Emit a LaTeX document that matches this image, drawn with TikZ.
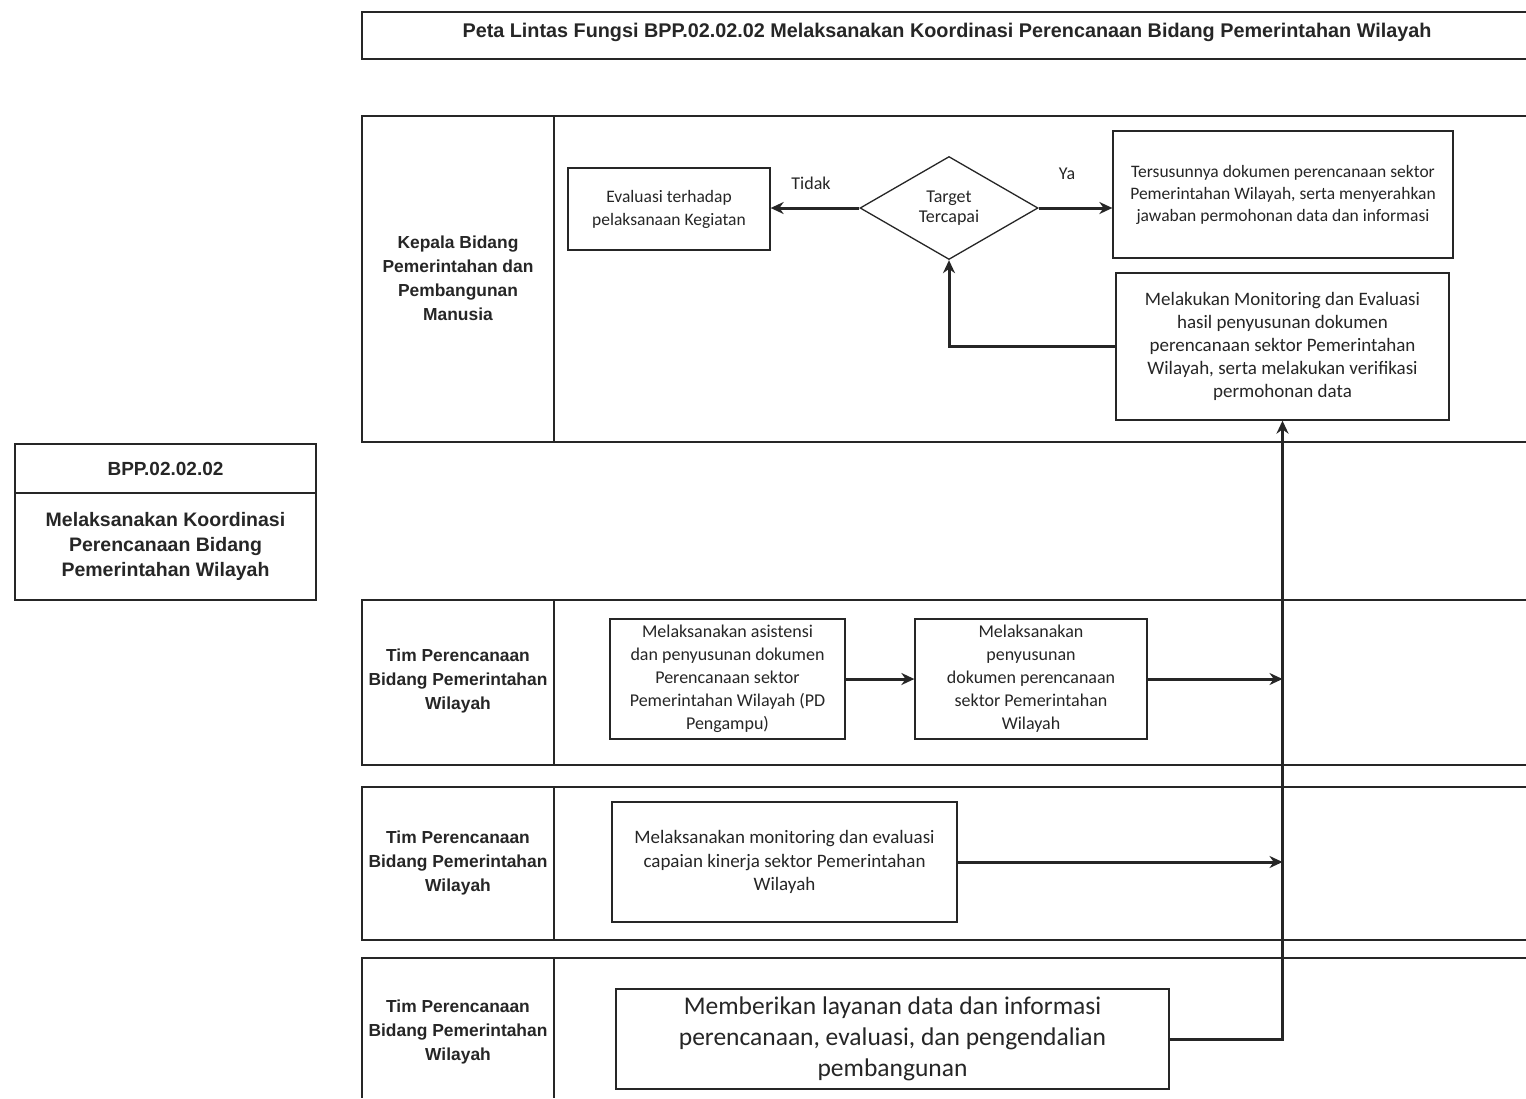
\documentclass[tikz,border=0pt]{standalone}
\usepackage{fontspec}
\setmainfont{Carlito}
\newfontfamily\labelfont{Liberation Sans}
\usetikzlibrary{arrows.meta,shapes.geometric}

\begin{document}
\begin{tikzpicture}[x=1pt,y=-1pt,line width=1.3pt,color=black!85,
  box/.style={draw,align=center,inner sep=2pt,font=\fontsize{18}{23}\selectfont},
  lanelabel/.style={align=center,inner sep=0pt,font=\labelfont\bfseries\fontsize{17.4}{24}\selectfont},
  flow/.style={line width=3pt,-{Stealth[length=13pt,width=12pt]}}]
\path[use as bounding box,fill=white] (0,0) rectangle (1526,1098);
% title and frames
\draw (1526,12) -- (362,12) -- (362,59) -- (1526,59);
\node[inner sep=0pt,font=\labelfont\bfseries\fontsize{19.8}{22}\selectfont] (title) at (947,32) {Peta Lintas Fungsi BPP.02.02.02 Melaksanakan Koordinasi Perencanaan Bidang Pemerintahan Wilayah};
\draw (1526,116) -- (362,116) -- (362,442) -- (1526,442);
\draw (554,116) -- (554,442);
\draw (1526,600) -- (362,600) -- (362,765) -- (1526,765);
\draw (554,600) -- (554,765);
\draw (1526,787) -- (362,787) -- (362,940) -- (1526,940);
\draw (554,787) -- (554,940);
\draw (1526,958) -- (362,958) -- (362,1098);
\draw (554,958) -- (554,1098);
% left code box
\node[draw,minimum width=301pt,minimum height=49pt,inner sep=0pt,font=\labelfont\bfseries\fontsize{19}{22}\selectfont] (code) at (165.5,468.5) {BPP.02.02.02};
\node[draw,minimum width=301pt,minimum height=107pt,inner sep=0pt,align=center,font=\labelfont\bfseries\fontsize{19.5}{25}\selectfont] (codename) at (165.5,546.5) {Melaksanakan Koordinasi\\Perencanaan Bidang\\Pemerintahan Wilayah};
% lane labels
\node[lanelabel] (kabid) at (458,278.5) {Kepala Bidang\\Pemerintahan dan\\Pembangunan\\Manusia};
\node[lanelabel] (timA) at (458,681) {Tim Perencanaan\\Bidang Pemerintahan\\Wilayah};
\node[lanelabel] (timB) at (458,863) {Tim Perencanaan\\Bidang Pemerintahan\\Wilayah};
\node[lanelabel] (timC) at (458,1032) {Tim Perencanaan\\Bidang Pemerintahan\\Wilayah};
% lane 1
\node[box,minimum width=202pt,minimum height=82pt,font=\fontsize{17.5}{23}\selectfont] (eval) at (669,209) {Evaluasi terhadap\\pelaksanaan Kegiatan};
\node[draw,shape=diamond,aspect=1.8,inner sep=0pt,minimum width=178pt,minimum height=103pt,align=center,font=\fontsize{18}{20}\selectfont] (target) at (949,208) {Target\\Tercapai};
\node[box,minimum width=340pt,minimum height=127pt,font=\fontsize{17.5}{22}\selectfont] (result) at (1283,194.5) {Tersusunnya dokumen perencanaan sektor\\Pemerintahan Wilayah, serta menyerahkan\\jawaban permohonan data dan informasi};
\node[box,minimum width=333pt,minimum height=147pt,font=\fontsize{19}{23}\selectfont] (mon) at (1282.5,346.5) {Melakukan Monitoring dan Evaluasi\\hasil penyusunan dokumen\\perencanaan sektor Pemerintahan\\Wilayah, serta melakukan verifikasi\\permohonan data};
\node[inner sep=0pt,font=\fontsize{18}{20}\selectfont] (tidak) at (811,183) {Tidak};
\node[inner sep=0pt,font=\fontsize{18}{20}\selectfont] (ya) at (1067,174) {Ya};
% lane 2
\node[box,minimum width=235pt,minimum height=120pt] (asis) at (727.5,679) {Melaksanakan asistensi\\dan penyusunan dokumen\\Perencanaan sektor\\Pemerintahan Wilayah (PD\\Pengampu)};
\node[box,minimum width=232pt,minimum height=120pt] (susun) at (1031,679) {Melaksanakan\\penyusunan\\dokumen perencanaan\\sektor Pemerintahan\\Wilayah};
% lane 3
\node[box,minimum width=345pt,minimum height=120pt,font=\fontsize{19}{23.5}\selectfont] (monev) at (784.5,862) {Melaksanakan monitoring dan evaluasi\\capaian kinerja sektor Pemerintahan\\Wilayah};
% lane 4
\node[box,minimum width=553pt,minimum height=100pt,font=\fontsize{25.5}{31}\selectfont] (layan) at (892.5,1039) {Memberikan layanan data dan informasi\\perencanaan, evaluasi, dan pengendalian\\pembangunan};
% connectors
\draw[flow] (target.west) -- (target.west -| eval.east);
\draw[flow] (target.east) -- (target.east -| result.west);
\draw[flow] (mon.west) -| (target.south);
\draw[flow] (asis.east) -- (susun.west);
\draw[flow] (susun.east) -- (susun.east -| mon.south);
\draw[flow] (monev.east) -- (monev.east -| mon.south);
\draw[flow] (layan.east) -| (mon.south);
\end{tikzpicture}
\end{document}
